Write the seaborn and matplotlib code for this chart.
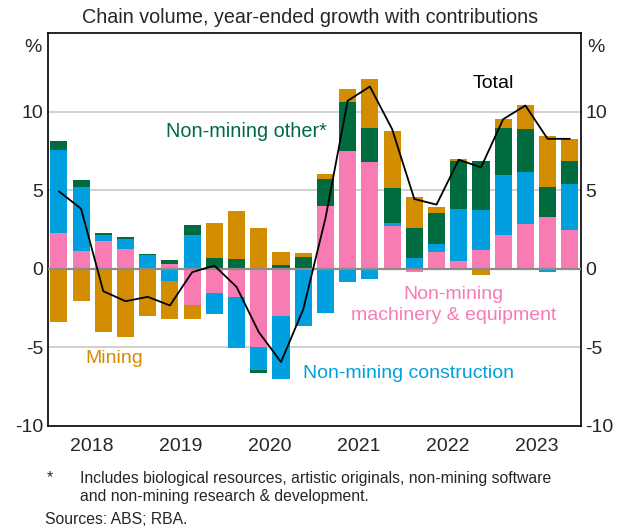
import numpy as np
import pandas as pd
import matplotlib
matplotlib.use("Agg")
from matplotlib import pyplot as plt
import seaborn as sns

# quarterly contributions, 2018 Q1 .. 2023 Q4 (ppt)
quarters = pd.period_range("2018Q1", "2023Q4", freq="Q").astype(str)
years = ["2018", "2019", "2020", "2021", "2022", "2023"]
machinery = [2.29, 1.14, 1.78, 1.27, 0.0, 0.32, -2.35, -1.53, -1.78, -5.0, -3.05, 0.0,
             4.0, 7.46, 6.8, 2.73, -0.23, 1.08, 0.51, 1.21, 2.12, 2.86, 3.31, 2.48]
construction = [5.27, 4.07, 0.34, 0.64, 0.86, -0.8, 2.12, -1.37, -3.28, -1.48, -3.98, -3.67,
                -2.84, -0.87, -0.64, 0.19, 0.7, 0.51, 3.3, 2.54, 3.85, 3.31, -0.23, 2.92]
other = [0.58, 0.45, 0.13, 0.08, 0.08, 0.25, 0.68, 0.7, 0.64, -0.17, 0.25, 0.76,
         1.72, 3.16, 2.16, 2.22, 1.91, 1.97, 3.05, 3.11, 2.99, 2.73, 1.91, 1.46]
mining = [-3.41, -2.08, -4.05, -4.36, -2.99, -2.42, -0.87, 2.22, 3.05, 2.61, 0.83, 0.25,
          0.32, 0.83, 3.11, 3.62, 1.97, 0.38, 0.09, -0.44, 0.57, 1.53, 3.24, 1.4]
total = [4.92, 3.81, -1.44, -2.08, -1.8, -2.35, -0.23, 0.19, -1.17, -4.05, -5.95, -2.6,
         3.2, 10.68, 11.59, 8.88, 4.43, 4.07, 6.93, 6.44, 9.51, 10.38, 8.26, 8.26]

series = [("Non-mining machinery & equipment", machinery, "#F87BB4"),
          ("Non-mining construction", construction, "#00A0E0"),
          ("Non-mining other*", other, "#006B3F"),
          ("Mining", mining, "#D38D00")]

sns.set_theme(style="white")
plt.rcParams["font.family"] = ["Liberation Sans", "DejaVu Sans"]

fig = plt.figure(figsize=(6.2, 5.32), dpi=100)
ax = fig.add_axes([0.077, 0.2, 0.86, 0.738])

x = np.arange(len(quarters))
pos_base = np.zeros(len(x))
neg_base = np.zeros(len(x))
for name, vals, col in series:
    v = np.array(vals)
    bottom = np.where(v >= 0, pos_base, neg_base)
    ax.bar(x, v, bottom=bottom, width=0.77, color=col, zorder=2, linewidth=0)
    pos_base = pos_base + np.clip(v, 0, None)
    neg_base = neg_base + np.clip(v, None, 0)

ax.axhline(0, color="#8c8c8c", lw=1.6, zorder=3)
df = pd.DataFrame({"x": x, "total": total})
sns.lineplot(data=df, x="x", y="total", color="black", lw=1.3, ax=ax, zorder=4)

ax.set_xlim(-0.5, 23.5)
ax.set_ylim(-10, 15)
ax.set_yticks([-10, -5, 0, 5, 10])
ax.set_yticklabels(["-10", "-5", "0", "5", "10"])
for yv in [-5, 5, 10]:
    ax.axhline(yv, color="#c8c8c8", lw=1.2, zorder=1)
ax.tick_params(axis="y", length=0, labelsize=14, labelright=True, pad=3)

ax.set_xticks(np.arange(3.5, 23, 4))
ax.set_xticklabels([])
ax.set_xticks(np.arange(1.5, 24, 4), minor=True)
ax.set_xticklabels(years, minor=True)
ax.tick_params(axis="x", which="major", direction="in", length=5, width=1.2, color="black")
ax.tick_params(axis="x", which="minor", length=0, labelsize=14, pad=9)
ax.set_xlabel("")
ax.set_ylabel("")
for sp in ax.spines.values():
    sp.set_color("black")
    sp.set_linewidth(1.2)

ax.text(-0.012, 0.985, "%", transform=ax.transAxes, ha="right", va="top", fontsize=14)
ax.text(1.012, 0.985, "%", transform=ax.transAxes, ha="left", va="top", fontsize=14)

ax.text(8.45, 8.75, "Non-mining other*", color="#006B3F", fontsize=14.3, ha="center", va="center")
ax.text(19.55, 11.8, "Total", color="black", fontsize=14, ha="center", va="center")
ax.text(2.5, -5.75, "Mining", color="#D38D00", fontsize=14, ha="center", va="center")
ax.text(17.75, -2.3, "Non-mining\nmachinery & equipment", color="#F87BB4", fontsize=14,
        ha="center", va="center", linespacing=1.3)
ax.text(15.75, -6.7, "Non-mining construction", color="#00A0E0", fontsize=14,
        ha="center", va="center")

fig.text(0.5, 0.968, "Chain volume, year-ended growth with contributions",
         ha="center", va="center", fontsize=14.2)
fig.text(0.075, 0.1015, "*", ha="left", va="center", fontsize=11.3)
fig.text(0.129, 0.1015, "Includes biological resources, artistic originals, non-mining software",
         ha="left", va="center", fontsize=11.3)
fig.text(0.129, 0.066, "and non-mining research & development.", ha="left", va="center", fontsize=11.3)
fig.text(0.072, 0.0226, "Sources: ABS; RBA.", ha="left", va="center", fontsize=11.3)

fig.savefig("out.png", dpi=100)
